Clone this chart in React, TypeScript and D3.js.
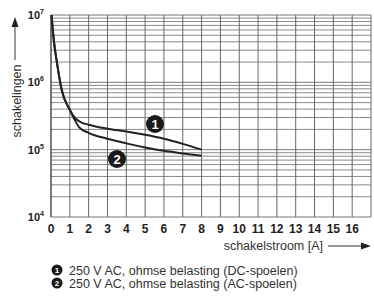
import React from 'react';
import * as d3 from 'd3';

// switching current [A] vs. number of operations
const dcCoil: [number, number][] = [
  [0.03, 1e7], [0.15, 4.2e6], [0.3, 2.1e6], [0.57, 7.7e5], [1.0, 3.9e5],
  [1.3, 2.9e5], [1.6, 2.55e5], [2, 2.35e5], [3, 2.05e5], [4, 1.86e5],
  [5, 1.66e5], [6, 1.45e5], [7, 1.22e5], [8, 1.0e5],
];
const acCoil: [number, number][] = [
  [0.03, 1e7], [0.15, 4.2e6], [0.3, 2.1e6], [0.57, 7.7e5], [1.0, 3.9e5],
  [1.25, 2.8e5], [1.5, 2.15e5], [2, 1.78e5], [3, 1.45e5], [4, 1.24e5],
  [5, 1.08e5], [6, 9.6e4], [7, 8.8e4], [8, 8.1e4],
];
const xTicks = d3.range(0, 17);
const yDecades = [4, 5, 6, 7];
const legend = [
  '250 V AC, ohmse belasting (DC-spoelen)',
  '250 V AC, ohmse belasting (AC-spoelen)',
];

const W = 374, H = 301;
const left = 51, right = 371, top = 15, bottom = 217;
const font = 'Arial, "Liberation Sans", sans-serif';

export default function App() {
  const x = d3.scaleLinear().domain([0, 17]).range([left, right]);
  const y = d3.scaleLog().domain([1e4, 1e7]).range([bottom, top]);

  const minor: number[] = [];
  for (let d = 4; d < 7; d++) {
    for (let m = 2; m <= 9; m++) minor.push(m * Math.pow(10, d));
  }

  const line = d3.line<[number, number]>()
    .x(d => x(d[0]))
    .y(d => y(d[1]))
    .curve(d3.curveMonotoneX);

  const marker = (cx: number, cy: number, r: number, n: number, fs: number) => (
    <g key={`m${n}-${cx}`}>
      <circle cx={cx} cy={cy} r={r} fill="#1a1a1a" />
      <text x={cx} y={cy + fs * 0.36} textAnchor="middle" fill="#fff"
        fontSize={fs} fontWeight="bold" fontFamily={font}>{n}</text>
    </g>
  );

  return (
    <svg width={W} height={H} style={{ position: 'absolute', left: 0, top: 0 }}>
      <rect width={W} height={H} fill="#fff" />
      {/* grid */}
      {minor.map(v => (
        <line key={`h${v}`} x1={left} x2={right} y1={y(v)} y2={y(v)} stroke="#8a8a8a" strokeWidth={1} />
      ))}
      {yDecades.map(p => (
        <line key={`d${p}`} x1={left} x2={right} y1={y(Math.pow(10, p))} y2={y(Math.pow(10, p))} stroke="#777" strokeWidth={1} />
      ))}
      {d3.range(1, 18).map(v => (
        <line key={`v${v}`} x1={x(v)} x2={x(v)} y1={top} y2={bottom} stroke="#666" strokeWidth={1} />
      ))}
      <line x1={left} x2={left} y1={top} y2={bottom} stroke="#222" strokeWidth={1.2} />

      {/* curves */}
      <path d={line(dcCoil) || ''} fill="none" stroke="#222" strokeWidth={2} />
      <path d={line(acCoil) || ''} fill="none" stroke="#222" strokeWidth={2} />
      {marker(155, 124, 9, 1, 13)}
      {marker(117, 159, 9, 2, 13)}

      {/* tick labels */}
      {xTicks.map(t => (
        <text key={`xt${t}`} x={x(t)} y={233} textAnchor="middle" fontSize={12}
          fontWeight="bold" fontFamily={font} fill="#222">{t}</text>
      ))}
      {yDecades.map(p => (
        <text key={`yt${p}`} x={44} y={y(Math.pow(10, p)) + 4} textAnchor="end"
          fontSize={11} fontWeight="bold" fontFamily={font} fill="#222">
          10<tspan dy={-5} fontSize={7}>{p}</tspan>
        </text>
      ))}

      {/* axis titles */}
      <text transform="translate(21,101) rotate(-90)" textAnchor="middle"
        fontSize={12.5} fontFamily={font} fill="#333">schakelingen</text>
      <line x1={15} x2={15} y1={60} y2={26} stroke="#333" strokeWidth={1} />
      <path d="M11.5,27 L15,17 L18.5,27 Z" fill="#222" />

      <text x={323} y={250} textAnchor="end" fontSize={12.5} fontFamily={font} fill="#333">schakelstroom [A]</text>
      <line x1={328} x2={362} y1={246} y2={246} stroke="#333" strokeWidth={1} />
      <path d="M361,242.5 L371,246 L361,249.5 Z" fill="#222" />

      {/* legend */}
      {legend.map((t, i) => (
        <g key={`lg${i}`}>
          {marker(57, 270 + i * 13, 5.5, i + 1, 8)}
          <text x={69} y={274.5 + i * 13} fontSize={12.5} fontFamily={font} fill="#333">{t}</text>
        </g>
      ))}
    </svg>
  );
}
